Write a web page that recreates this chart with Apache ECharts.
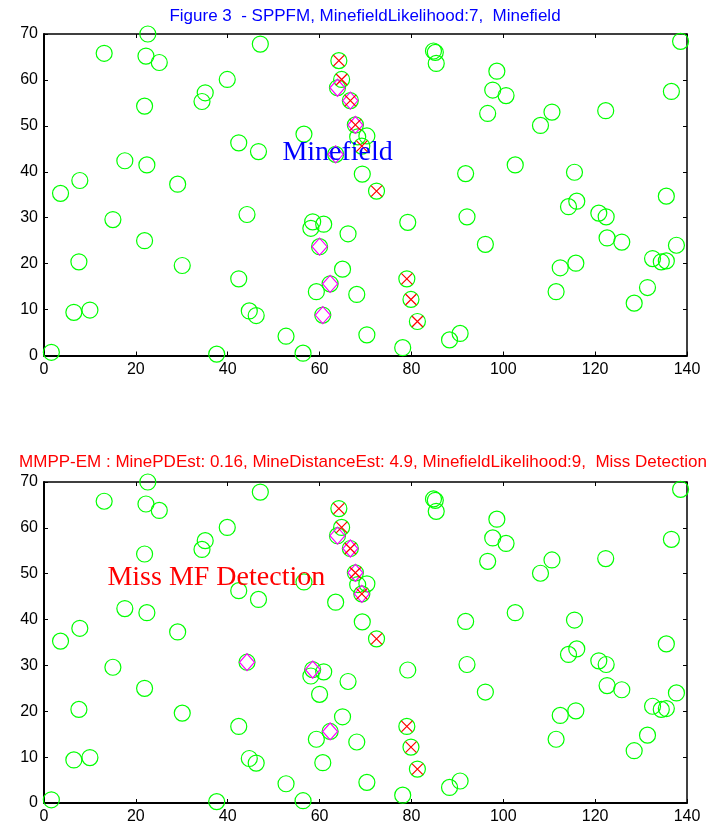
<!DOCTYPE html>
<html>
<head>
<meta charset="utf-8">
<script src="https://cdn.jsdelivr.net/npm/echarts@6/dist/echarts.min.js"></script>
<style>
  html, body { margin: 0; padding: 0; background: #ffffff; }
  #chart { width: 720px; height: 834px; }
</style>
</head>
<body>
<div id="chart"></div>
<script>
// Object positions in the survey area (all objects, drawn as circles)
const circleX = [1.6, 3.6, 6.5, 7.6, 7.8, 10.0, 13.1, 15.0, 17.6, 21.9, 21.9, 22.2, 22.4, 22.6, 25.1,
  29.1, 30.1, 34.4, 35.1, 37.6, 39.9, 42.4, 42.4, 44.2, 44.7, 46.2, 46.7, 47.1, 52.7, 56.4,
  56.6, 58.1, 58.5, 59.3, 60.0, 60.7, 60.9, 62.3, 63.5, 63.9, 64.2, 64.8, 65.0, 66.2, 66.7,
  67.8, 68.1, 68.3, 69.2, 69.3, 70.3, 70.3, 72.4, 78.1, 79.0, 79.2, 79.9, 81.3, 84.8, 85.2,
  85.4, 88.3, 90.6, 91.8, 92.1, 96.1, 96.6, 97.7, 98.6, 100.6, 102.6, 108.1, 110.6, 111.5, 112.4,
  114.2, 115.5, 115.8, 116.0, 120.8, 122.3, 122.4, 122.6, 125.8, 128.5, 131.4, 132.5, 134.4, 135.5,
  135.5, 136.6, 137.7, 138.6];
const circleY = [0.7, 35.3, 9.4, 20.4, 38.1, 9.9, 65.8, 29.6, 42.4, 25.0, 54.3, 65.2, 41.5, 70.0, 63.8,
  37.3, 19.6, 55.3, 57.2, 0.3, 60.1, 46.3, 16.7, 30.7, 9.7, 8.7, 44.4, 67.8, 4.2, 0.5,
  48.2, 27.7, 29.1, 13.9, 23.7, 8.8, 28.6, 15.6, 43.8, 58.3, 64.2, 60.1, 18.8, 26.5, 55.5,
  50.2, 13.3, 47.6, 45.6, 39.5, 47.8, 4.5, 35.8, 1.7, 16.7, 29.0, 12.2, 7.4, 66.3, 66.0,
  63.6, 3.4, 4.8, 39.6, 30.2, 24.2, 52.7, 57.8, 61.9, 56.6, 41.5, 50.1, 53.0, 13.9, 19.1,
  32.4, 39.9, 20.1, 33.6, 31.0, 53.3, 30.2, 25.6, 24.7, 11.4, 14.8, 21.1, 20.4, 20.6,
  34.7, 57.5, 24.0, 68.4];

// True mines (red crosses)
const mineX = [64.2, 64.8, 66.7, 67.8, 69.2, 72.4, 79.0, 79.9, 81.3];
const mineY = [64.2, 60.1, 55.5, 50.2, 45.6, 35.8, 16.7, 12.2, 7.4];

// Selected objects, SPPFM (magenta diamonds, upper panel)
const sppfmX = [63.9, 66.7, 67.8, 63.5, 60.0, 62.3, 60.7];
const sppfmY = [58.3, 55.5, 50.2, 43.8, 23.7, 15.6, 8.8];

// Selected objects, MMPP-EM (magenta diamonds, lower panel)
const mmppX = [63.9, 66.7, 67.8, 69.2, 44.2, 58.5, 62.3];
const mmppY = [58.3, 55.5, 50.2, 45.6, 30.7, 29.1, 15.6];

// Axis ticks
const xTicks = [0, 20, 40, 60, 80, 100, 120, 140];
const yTicks = [0, 10, 20, 30, 40, 50, 60, 70];

const topTitle = 'Figure 3  - SPPFM, MinefieldLikelihood:7,  Minefield';
const bottomTitle = 'MMPP-EM : MinePDEst: 0.16, MineDistanceEst: 4.9, MinefieldLikelihood:9,  Miss Detection';
const topNote = 'Minefield';
const bottomNote = 'Miss MF Detection';
const topNotePos = [51.8, 44.2];
const bottomNotePos = [13.7, 49.2];

const zip = (xs, ys) => xs.map((x, i) => [x, ys[i]]);

const SANS = 'Liberation Sans, Arial, sans-serif';
const SERIF = 'Liberation Serif, Times New Roman, serif';

const grids = [
  { left: 44, top: 34, width: 643, height: 321.5 },
  { left: 44, top: 482, width: 643, height: 321 }
];

function xAxes(gi) {
  const base = {
    gridIndex: gi, type: 'value',
    min: xTicks[0], max: xTicks[xTicks.length - 1], interval: xTicks[1] - xTicks[0],
    splitLine: { show: false },
    axisTick: { show: true, inside: true, length: 4, lineStyle: { color: '#000', width: 1 } }
  };
  return [
    Object.assign({}, base, {
      position: 'bottom',
      axisLine: { show: true, onZero: false, lineStyle: { color: '#000', width: 2 } },
      axisLabel: { show: true, color: '#000', fontSize: 16, fontFamily: SANS, margin: 6,
        showMinLabel: true, showMaxLabel: true }
    }),
    Object.assign({}, base, {
      position: 'top',
      axisLine: { show: true, onZero: false, lineStyle: { color: '#000', width: 1.5 } },
      axisLabel: { show: false }
    })
  ];
}

function yAxes(gi) {
  const base = {
    gridIndex: gi, type: 'value',
    min: yTicks[0], max: yTicks[yTicks.length - 1], interval: yTicks[1] - yTicks[0],
    splitLine: { show: false },
    axisTick: { show: true, inside: true, length: 4, lineStyle: { color: '#000', width: 1 } }
  };
  return [
    Object.assign({}, base, {
      position: 'left',
      axisLine: { show: true, onZero: false, lineStyle: { color: '#000', width: 2 } },
      axisLabel: { show: true, color: '#000', fontSize: 16, fontFamily: SANS, margin: 6,
        showMinLabel: true, showMaxLabel: true }
    }),
    Object.assign({}, base, {
      position: 'right',
      axisLine: { show: true, onZero: false, lineStyle: { color: '#000', width: 1.5 } },
      axisLabel: { show: false }
    })
  ];
}

function panelSeries(gi, diamonds, note, notePos, noteColor) {
  const ax = { xAxisIndex: 2 * gi, yAxisIndex: 2 * gi };
  return [
    Object.assign({
      type: 'scatter', silent: true, z: 2,
      data: zip(circleX, circleY),
      symbol: 'circle', symbolSize: 16,
      itemStyle: { opacity: 1, color: 'rgba(0,0,0,0)', borderColor: '#00ff00', borderWidth: 1.2 }
    }, ax),
    Object.assign({
      type: 'scatter', silent: true, z: 3,
      data: diamonds,
      symbol: 'diamond', symbolSize: [15, 17],
      itemStyle: { opacity: 1, color: 'rgba(0,0,0,0)', borderColor: '#ff00ff', borderWidth: 1.2 }
    }, ax),
    Object.assign({
      type: 'scatter', silent: true, z: 4,
      data: zip(mineX, mineY),
      symbol: 'path://M0,0L10,10M10,0L0,10', symbolSize: 11,
      itemStyle: { opacity: 1, color: 'none', borderColor: '#ff0000', borderWidth: 1.2 }
    }, ax),
    Object.assign({
      type: 'scatter', silent: true, z: 5,
      data: [notePos],
      symbolSize: 1,
      itemStyle: { opacity: 1, color: 'rgba(0,0,0,0)' },
      label: {
        show: true, position: 'right', distance: 0,
        formatter: note, color: noteColor, fontSize: 28, fontFamily: SERIF
      }
    }, ax)
  ];
}

const chart = echarts.init(document.getElementById('chart'), null, { renderer: 'canvas' });
chart.setOption({
  animation: false,
  backgroundColor: '#ffffff',
  grid: grids,
  xAxis: xAxes(0).concat(xAxes(1)),
  yAxis: yAxes(0).concat(yAxes(1)),
  graphic: [
    { type: 'text', x: 365, y: 16, silent: true,
      style: { text: topTitle, fill: '#0000ff', font: '17px ' + SANS, align: 'center', verticalAlign: 'middle' } },
    { type: 'text', x: 363, y: 462.5, silent: true,
      style: { text: bottomTitle, fill: '#ff0000', font: '17px ' + SANS, align: 'center', verticalAlign: 'middle' } }
  ],
  series: panelSeries(0, zip(sppfmX, sppfmY), topNote, topNotePos, '#0000ff')
    .concat(panelSeries(1, zip(mmppX, mmppY), bottomNote, bottomNotePos, '#ff0000'))
});
</script>
</body>
</html>
